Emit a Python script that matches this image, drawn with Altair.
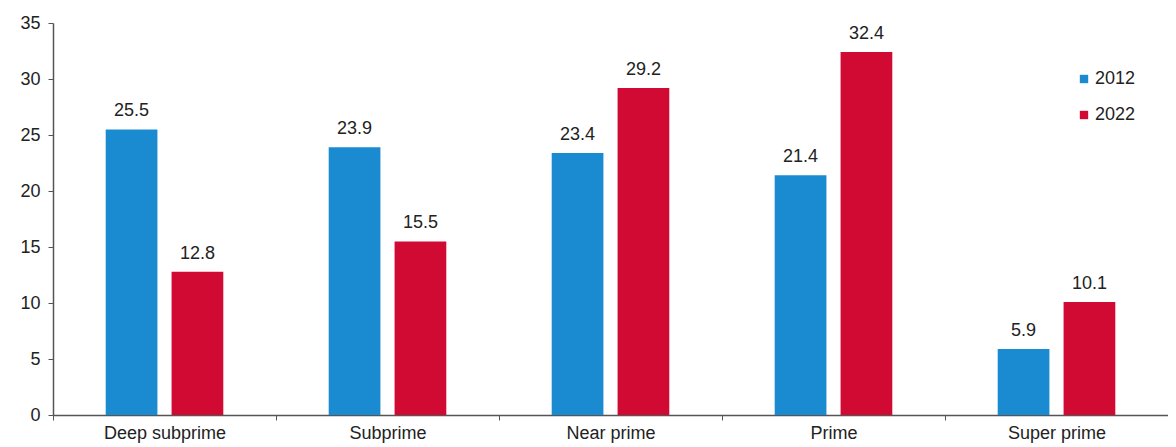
import altair as alt
import pandas as pd

categories = ["Deep subprime", "Subprime", "Near prime", "Prime", "Super prime"]
years = ["2012", "2022"]
values_2012 = [25.5, 23.9, 23.4, 21.4, 5.9]
values_2022 = [12.8, 15.5, 29.2, 32.4, 10.1]
colors = ["#1a8bd0", "#d10a34"]

rows = []
for c, a, b in zip(categories, values_2012, values_2022):
    rows.append({"cat": c, "year": "2012", "val": a})
    rows.append({"cat": c, "year": "2022", "val": b})
df = pd.DataFrame(rows)

FONT = "Liberation Sans"

x = alt.X("cat:N", sort=categories, title=None,
          scale=alt.Scale(paddingInner=0, paddingOuter=0),
          axis=alt.Axis(labelAngle=0, labelFontSize=18, labelColor="#222",
                        labelFont=FONT, tickBand="extent", tickSize=5,
                        labelPadding=4, domainColor="#555", tickColor="#555"))
xoff = alt.XOffset("year:N", sort=years,
                   scale=alt.Scale(paddingInner=0.215, paddingOuter=0.8))
y = alt.Y("val:Q", title=None,
          scale=alt.Scale(domain=[0, 35], nice=False),
          axis=alt.Axis(values=[0, 5, 10, 15, 20, 25, 30, 35], grid=False,
                        labelFontSize=18, labelColor="#222", labelFont=FONT,
                        tickSize=5, labelPadding=8, domainColor="#555",
                        tickColor="#555"))

base = alt.Chart(df).encode(x=x, xOffset=xoff, y=y)

bars = base.mark_bar().encode(
    color=alt.Color("year:N", sort=years,
                    scale=alt.Scale(domain=years, range=colors),
                    legend=alt.Legend(title=None, orient="none",
                                      legendX=1022, legendY=47,
                                      symbolType="square", symbolSize=70,
                                      symbolStrokeWidth=0,
                                      labelFontSize=18, labelFont=FONT,
                                      labelColor="#222", rowPadding=18,
                                      labelOffset=2))
)

labels = base.mark_text(dy=-18, fontSize=18, font=FONT, color="#222").encode(
    text=alt.Text("val:Q", format=".1f")
)

chart = (bars + labels).properties(
    width=1115, height=392,
    padding={"left": 45, "top": 15, "right": 0, "bottom": 32},
    autosize=alt.AutoSizeParams(type="none"),
).configure_view(stroke=None).configure_axis(domainWidth=1.5)

chart.save("out.html", embed_options={"renderer": "svg", "actions": False})
